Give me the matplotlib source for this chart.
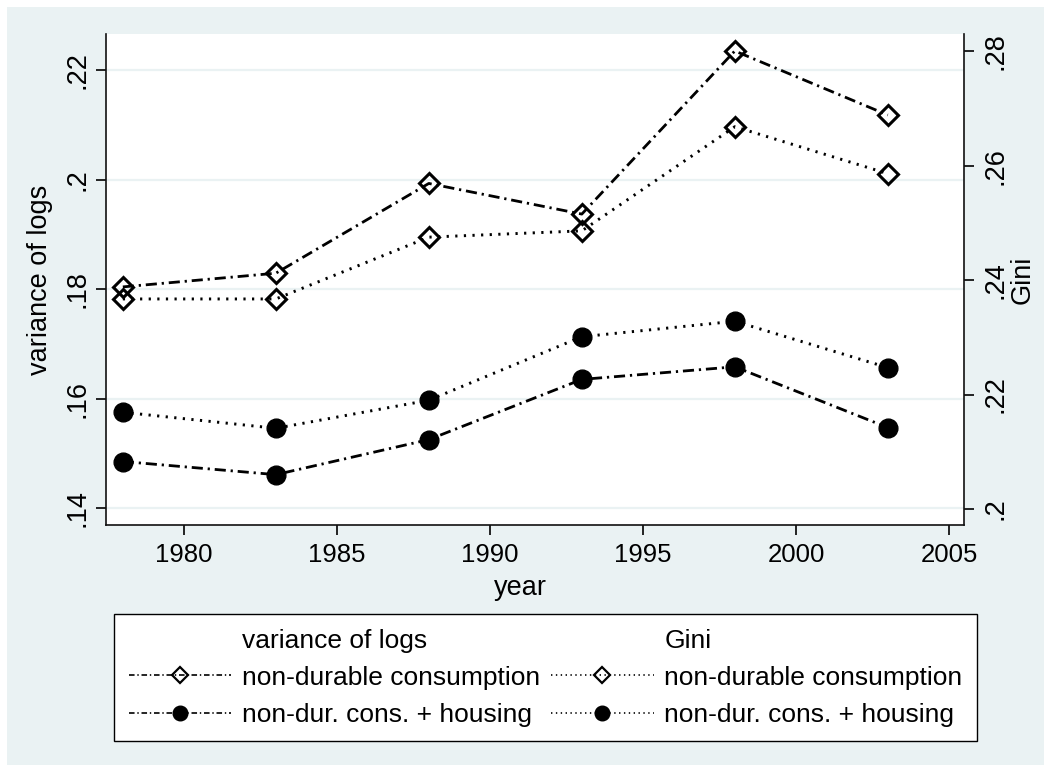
import matplotlib
matplotlib.use('Agg')
import matplotlib.pyplot as plt
from matplotlib.lines import Line2D
from matplotlib.patches import Rectangle

plt.rcParams['font.family'] = ['Liberation Sans', 'DejaVu Sans']
plt.rcParams['lines.scale_dashes'] = False

# survey years
years = [1978, 1983, 1988, 1993, 1998, 2003]

# variance of logs (left axis)
var_nondur = [0.1804, 0.1829, 0.1993, 0.1937, 0.2235, 0.2118]
var_housing = [0.1485, 0.1461, 0.1525, 0.1635, 0.1658, 0.1547]

# Gini (right axis)
gini_nondur = [0.2367, 0.2367, 0.2475, 0.2486, 0.2668, 0.2586]
gini_housing = [0.2169, 0.2141, 0.2190, 0.2301, 0.2328, 0.2247]

xticks = [1980, 1985, 1990, 1995, 2000, 2005]
left_ticks = [0.14, 0.16, 0.18, 0.20, 0.22]
left_labels = ['.14', '.16', '.18', '.2', '.22']
right_ticks = [0.20, 0.22, 0.24, 0.26, 0.28]
right_labels = ['.2', '.22', '.24', '.26', '.28']

BG = '#EAF2F3'
W, H = 1051, 771
DASHDOT = (0, (8, 3.5, 1.6, 3.5))
DOTTED = (0, (1.6, 4.6))

fig = plt.figure(figsize=(W / 100, H / 100), dpi=100, facecolor='white')
fig.add_artist(Rectangle((7 / W, 1 - 765 / H), 1037 / W, 758 / H,
                         transform=fig.transFigure, facecolor=BG,
                         edgecolor='none', zorder=-10))

ax = fig.add_axes([106 / W, 1 - 525 / H, 858 / W, 491 / H])
ax.set_facecolor('white')
ax2 = ax.twinx()
ax2.set_facecolor('none')

ax.plot(years, var_nondur, linestyle=DASHDOT, color='black', lw=2.0,
        dash_capstyle='butt', marker='D', ms=10.5, mfc='none', mec='black', mew=2.2)
ax.plot(years, var_housing, linestyle=DASHDOT, color='black', lw=2.0,
        dash_capstyle='butt', marker='o', ms=13.5, mfc='black', mec='black')
ax2.plot(years, gini_nondur, linestyle=DOTTED, color='black', lw=2.1,
         dash_capstyle='butt', marker='D', ms=10.5, mfc='none', mec='black', mew=2.2)
ax2.plot(years, gini_housing, linestyle=DOTTED, color='black', lw=2.1,
         dash_capstyle='butt', marker='o', ms=13.5, mfc='black', mec='black')

ax.set_xlim(1977.45, 2005.49)
ax.set_ylim(0.1369, 0.2266)
ax2.set_ylim(0.1972, 0.2830)

ax.set_xticks(xticks)
ax.set_yticks(left_ticks)
ax.set_yticklabels(left_labels)
ax2.set_yticks(right_ticks)
ax2.set_yticklabels(right_labels)

ax.yaxis.grid(True, color=BG, lw=1.6)
ax.set_axisbelow(True)

for a in (ax, ax2):
    a.spines['top'].set_visible(False)
    for s in a.spines.values():
        s.set_linewidth(1.2)
        s.set_color('#111111')
ax.spines['right'].set_visible(False)
ax2.spines['left'].set_visible(False)
ax2.spines['bottom'].set_visible(False)

ax.tick_params(axis='x', length=7, width=1.2, labelsize=18.5, pad=6)
ax.tick_params(axis='y', length=7, width=1.2, labelsize=19.5, pad=4,
               labelrotation=90)
ax2.tick_params(axis='y', length=7, width=1.2, labelsize=19.5, pad=6,
                labelrotation=90)
for lbl in ax.get_yticklabels() + ax2.get_yticklabels():
    lbl.set_va('center')

# axis titles
fig.text(520 / W, 1 - 588 / H, 'year', ha='center', va='center', fontsize=19.5)
fig.text(40 / W, 1 - 280 / H, 'variance of logs', ha='center', va='center',
         rotation=90, fontsize=19.5)
fig.text(1023 / W, 1 - 280 / H, 'Gini', ha='center', va='center',
         rotation=90, fontsize=19.5)

# legend
blank = Line2D([], [], linestyle='none')
h1 = Line2D([], [], linestyle=(0, (4, 2, 1, 2)), color='black', lw=1.2,
            marker='D', ms=8, mfc='none', mec='black', mew=1.6)
h2 = Line2D([], [], linestyle=(0, (4, 2, 1, 2)), color='black', lw=1.2,
            marker='o', ms=10.5, mfc='black', mec='black')
h3 = Line2D([], [], linestyle=(0, (1, 2.5)), color='black', lw=1.2,
            marker='D', ms=8, mfc='none', mec='black', mew=1.6)
h4 = Line2D([], [], linestyle=(0, (1, 2.5)), color='black', lw=1.2,
            marker='o', ms=10.5, mfc='black', mec='black')
leg = fig.legend([blank, h1, h2, blank, h3, h4],
                 ['variance of logs', 'non-durable consumption',
                  'non-dur. cons. + housing', 'Gini',
                  'non-durable consumption', 'non-dur. cons. + housing'],
                 ncol=2, loc='upper left', bbox_to_anchor=(114 / W, 1 - 614 / H),
                 borderaxespad=0, fontsize=19, handlelength=3.9,
                 handletextpad=0.4, columnspacing=0.4, labelspacing=0.5,
                 borderpad=0.55, fancybox=False, frameon=True)
leg.get_frame().set_edgecolor('black')
leg.get_frame().set_linewidth(1)
leg.get_frame().set_facecolor('white')
leg.get_frame().set_alpha(1)

fig.savefig('out.png', dpi=100, facecolor='white')
